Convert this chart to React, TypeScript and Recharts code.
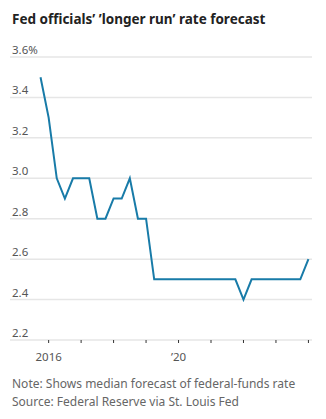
import { LineChart, Line, XAxis, YAxis, CartesianGrid } from "recharts";

// quarterly median "longer run" forecast, Q4 2015 .. Q1 2024
const quarters = [
  "2015Q4",
  "2016Q1", "2016Q2", "2016Q3", "2016Q4",
  "2017Q1", "2017Q2", "2017Q3", "2017Q4",
  "2018Q1", "2018Q2", "2018Q3", "2018Q4",
  "2019Q1", "2019Q2", "2019Q3", "2019Q4",
  "2020Q1", "2020Q2", "2020Q3", "2020Q4",
  "2021Q1", "2021Q2", "2021Q3", "2021Q4",
  "2022Q1", "2022Q2", "2022Q3", "2022Q4",
  "2023Q1", "2023Q2", "2023Q3", "2023Q4",
  "2024Q1",
];
const rates = [
  3.5,
  3.3, 3.0, 2.9, 3.0,
  3.0, 3.0, 2.8, 2.8,
  2.9, 2.9, 3.0, 2.8,
  2.8, 2.5, 2.5, 2.5,
  2.5, 2.5, 2.5, 2.5,
  2.5, 2.5, 2.5, 2.5,
  2.4, 2.5, 2.5, 2.5,
  2.5, 2.5, 2.5, 2.5,
  2.6,
];
const yearTicks = [2016, 2017, 2018, 2019, 2020, 2021, 2022, 2023, 2024];
const yTicks = [2.2, 2.4, 2.6, 2.8, 3.0, 3.2, 3.4, 3.6];

const data = quarters.map((q, i) => ({
  t: Number(q.slice(0, 4)) + (Number(q.slice(5)) - 1) / 4,
  rate: rates[i],
}));

const FONT = "'Noto Sans', 'Open Sans', sans-serif";

const YTick = (props: any) => {
  const { y, payload } = props;
  const v = Number(payload.value);
  const label = v === 3.6 ? "3.6%" : v.toFixed(1);
  return (
    <text x={12} y={y - 3} fontSize={11.5} fill="#555" fontFamily={FONT} textAnchor="start">
      {label}
    </text>
  );
};

const xLabel = (v: number) => (v === 2016 ? "2016" : v === 2020 ? "\u201920" : "");

export default function App() {
  return (
    <div className="wrap">
      <div className="title">Fed officials’ ’longer run’ rate forecast</div>
      <LineChart
        width={326}
        height={371}
        data={data}
        margin={{ top: 57, right: 14, bottom: 0, left: 0 }}
      >
        <CartesianGrid vertical={false} stroke="#e6e6e6" strokeWidth={1.5} />
        <XAxis
          dataKey="t"
          type="number"
          domain={[2014.81, 2024.11]}
          ticks={yearTicks}
          tickFormatter={xLabel}
          axisLine={false}
          tickLine={{ stroke: "#333" }}
          tickSize={3}
          tickMargin={10}
          height={31}
          tick={{ fontSize: 11.5, fill: "#555", fontFamily: FONT }}
        />
        <YAxis
          type="number"
          domain={[2.2, 3.6]}
          ticks={yTicks}
          width={10}
          axisLine={false}
          tickLine={false}
          tick={YTick}
        />
        <Line
          dataKey="rate"
          stroke="#187ba8"
          strokeWidth={2}
          dot={false}
          isAnimationActive={false}
        />
      </LineChart>
      <div className="note">
        Note: Shows median forecast of federal-funds rate
        <br />
        Source: Federal Reserve via St. Louis Fed
      </div>
      <style>{`
        body { margin: 0; }
        .wrap {
          position: relative;
          width: 326px;
          height: 419px;
          background: #fff;
          font-family: ${FONT};
        }
        .title {
          position: absolute;
          left: 12px;
          top: 10px;
          font-size: 13.5px;
          font-weight: 700;
          color: #222;
          white-space: nowrap;
        }
        .note {
          position: absolute;
          left: 12px;
          top: 375px;
          font-size: 12px;
          line-height: 17.5px;
          color: #666;
        }
      `}</style>
    </div>
  );
}
